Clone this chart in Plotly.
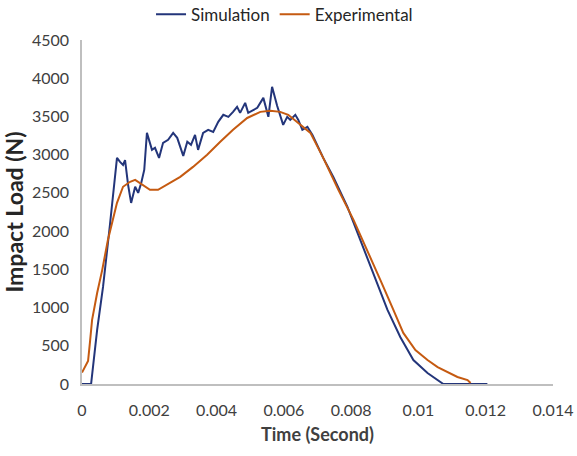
import plotly.graph_objects as go

sim_t = [0, 0.00027, 0.00045, 0.000625, 0.00083, 0.00104, 0.00113, 0.00122, 0.00128, 0.00137,
         0.00146, 0.00158, 0.00167, 0.00176, 0.00185, 0.00193, 0.00208, 0.00217, 0.00229, 0.00241,
         0.00256, 0.00271, 0.00283, 0.00301, 0.00313, 0.00324, 0.00336, 0.00345, 0.00360, 0.00375,
         0.00390, 0.00405, 0.00420, 0.00435, 0.00449, 0.00461, 0.00470, 0.00485, 0.00494, 0.00521,
         0.00539, 0.00554, 0.00565, 0.00580, 0.00598, 0.00610, 0.00619, 0.00634, 0.00643, 0.00655,
         0.00670, 0.00685, 0.00717, 0.00747, 0.00789, 0.00827, 0.00866, 0.00908, 0.00946, 0.00985,
         0.01027, 0.01074, 0.01205]
sim_load = [0, 0, 707, 1270, 2080, 2958, 2905, 2866, 2930, 2605,
            2369, 2580, 2500, 2630, 2800, 3285, 3063, 3090, 2958, 3155,
            3194, 3285, 3220, 2984, 3168, 3128, 3259, 3063, 3285, 3325,
            3298, 3429, 3521, 3495, 3560, 3626, 3547, 3678, 3547, 3613,
            3743, 3495, 3887, 3639, 3390, 3495, 3455, 3521, 3455, 3325,
            3364, 3259, 2958, 2710, 2317, 1885, 1453, 969, 615, 314,
            144, 0, 0]

exp_t = [0, 0.00009, 0.00018, 0.00024, 0.00030, 0.00045, 0.00060, 0.00077, 0.00092, 0.00104,
         0.00122, 0.00143, 0.00158, 0.00179, 0.00202, 0.00226, 0.00253, 0.00292, 0.00330, 0.00372,
         0.00411, 0.00449, 0.00491, 0.00530, 0.00560, 0.00589, 0.00613, 0.00649, 0.00679, 0.00717,
         0.00762, 0.00807, 0.00848, 0.00887, 0.00923, 0.00955, 0.00991, 0.01027, 0.01057, 0.01086,
         0.01116, 0.01146, 0.01155]
exp_load = [150, 230, 300, 560, 840, 1190, 1490, 1885, 2147, 2370,
            2580, 2645, 2670, 2605, 2540, 2540, 2605, 2710, 2840, 3000,
            3168, 3325, 3480, 3560, 3573, 3560, 3521, 3390, 3285, 2958,
            2540, 2147, 1754, 1360, 995, 668, 445, 314, 222, 157,
            92, 52, 13]

x_ticks = [0, 0.002, 0.004, 0.006, 0.008, 0.01, 0.012, 0.014]
x_tick_labels = ["0", "0.002", "0.004", "0.006", "0.008", "0.01", "0.012", "0.014"]
y_ticks = [0, 500, 1000, 1500, 2000, 2500, 3000, 3500, 4000, 4500]

FONT = "Lato"

fig = go.Figure()
fig.add_trace(go.Scatter(x=sim_t, y=sim_load, mode="lines", name="Simulation",
                         line=dict(color="#23357a", width=2)))
fig.add_trace(go.Scatter(x=exp_t, y=exp_load, mode="lines", name="Experimental",
                         line=dict(color="#c55a11", width=2)))

fig.update_layout(
    width=577, height=456,
    margin=dict(l=82, r=24, t=40, b=72, autoexpand=False),
    paper_bgcolor="white", plot_bgcolor="white",
    font=dict(family=FONT, size=16, color="#404040"),
    showlegend=True,
    legend=dict(orientation="h", x=0.43, xanchor="center",
                yref="container", y=0.968, yanchor="middle",
                font=dict(family=FONT, size=17, color="#262626"),
                bgcolor="rgba(0,0,0,0)"),
    xaxis=dict(range=[0, 0.014], tickvals=x_ticks, ticktext=x_tick_labels,
               showgrid=False, zeroline=False, showline=True, linecolor="#bfbfbf",
               linewidth=1.5, ticks="outside", ticklen=11, tickcolor="rgba(0,0,0,0)",
               tickfont=dict(family=FONT, size=16, color="#404040"),
               title=dict(text="<b>Time (Second)</b>",
                          font=dict(family=FONT, size=18, color="#404040"),
                          standoff=10)),
    yaxis=dict(range=[0, 4500], tickvals=y_ticks, showgrid=False, zeroline=False,
               showline=True, linecolor="#bfbfbf", linewidth=1.5,
               ticks="outside", ticklen=8, tickcolor="rgba(0,0,0,0)",
               tickfont=dict(family=FONT, size=16, color="#404040"),
               title=dict(text="<b>Impact Load (N)</b>",
                          font=dict(family=FONT, size=23, color="#262626"),
                          standoff=4)),
)

fig.write_html("out.html")
